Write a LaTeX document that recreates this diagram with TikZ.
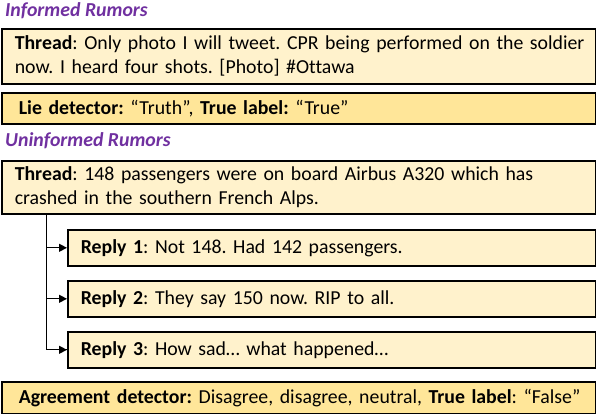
\documentclass[tikz,border=0pt]{standalone}
\usepackage{fontspec}
\setmainfont[Ligatures={NoCommon}]{Carlito}
\usetikzlibrary{arrows.meta}
\definecolor{lightbox}{HTML}{FFF2CC}
\definecolor{darkbox}{HTML}{FFE699}
\definecolor{ttl}{HTML}{7030A0}
\begin{document}
\frenchspacing
\begin{tikzpicture}[x=1pt,y=-1pt,
  every node/.style={font=\fontsize{19.8}{24}\selectfont},
  box/.style={draw=black, line width=1.6pt, fill=lightbox, anchor=north west, align=left, inner xsep=13pt, inner ysep=0pt},
  dbox/.style={box, fill=darkbox, inner xsep=17pt},
  ttlnode/.style={anchor=west, text=ttl, font=\fontsize{19.8}{24}\selectfont\bfseries\itshape, inner sep=0pt},
  conn/.style={line width=1.2pt, -{Triangle[length=8pt,width=8pt]}}]
\useasboundingbox (0,0) rectangle (596,414);
\node[ttlnode] (t1) at (5,11) {Informed Rumors};
\node[box, minimum width=594pt, minimum height=55pt, text width=568pt] (th1) at (1,28)
  {\mbox{\textbf{Thread}: Only photo I will tweet. CPR being performed on the soldier}\\\mbox{now. I heard four shots. [Photo] \#Ottawa}};
\node[dbox, minimum width=594pt, minimum height=31pt, text width=560pt] (lie) at (1,92)
  {\mbox{\textbf{Lie detector:} “Truth”, \textbf{True label:} “True”}};
\node[ttlnode] (t2) at (5,141) {Uninformed Rumors};
\node[box, minimum width=594pt, minimum height=53pt, text width=568pt] (th2) at (1,160)
  {\mbox{\textbf{Thread}: 148 passengers were on board Airbus A320 which has}\\\mbox{crashed in the southern French Alps.}};
\node[box, minimum width=528pt, minimum height=36pt, text width=502pt] (r1) at (67,229)
  {\mbox{\textbf{Reply 1}: Not 148. Had 142 passengers.}};
\node[box, minimum width=528pt, minimum height=36pt, text width=502pt] (r2) at (67,280)
  {\mbox{\textbf{Reply 2}: They say 150 now. RIP to all.}};
\node[box, minimum width=528pt, minimum height=36pt, text width=502pt] (r3) at (67,331)
  {\mbox{\textbf{Reply 3}: How sad… what happened…}};
\node[dbox, minimum width=594pt, minimum height=32pt, text width=560pt] (agr) at (1,381)
  {\mbox{\textbf{Agreement detector:} Disagree, disagree, neutral, \textbf{True label}: “False”}};
\coordinate (top) at (46.5,213);
\draw[line width=1.2pt] (top) |- (r3.west);
\draw[conn] (top |- r1.west) -- (r1.west);
\draw[conn] (top |- r2.west) -- (r2.west);
\draw[conn] (top |- r3.west) -- (r3.west);
\end{tikzpicture}
\end{document}
